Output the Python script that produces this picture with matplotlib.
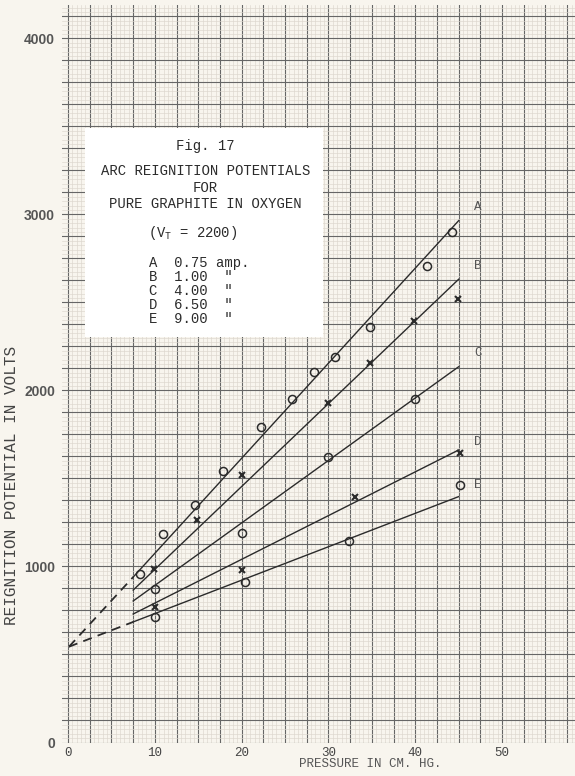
import numpy as np
import matplotlib
matplotlib.use("Agg")
import matplotlib.pyplot as plt
from matplotlib.patches import Rectangle

# ---- data ----
# pressure (cm Hg) and reignition potential (volts)
a_x = [8.3, 10.9, 14.6, 17.8, 22.2, 25.8, 28.3, 30.8, 34.8, 41.3, 44.2]
a_y = [957, 1183, 1351, 1544, 1793, 1950, 2103, 2192, 2362, 2707, 2902]
b_x = [9.9, 14.8, 20.0, 29.9, 34.8, 39.9, 44.9]
b_y = [984, 1264, 1520, 1931, 2158, 2397, 2522]
c_x = [10.0, 20.0, 30.0, 40.0]
c_y = [870, 1193, 1624, 1950]
d_x = [10.0, 20.0, 33.1, 45.2]
d_y = [772, 978, 1397, 1647]
e_x = [10.0, 20.4, 32.4, 45.1]
e_y = [715, 912, 1145, 1463]

# fitted lines drawn on the plate (start / end values)
fit_x = [7.5, 45.0]
fit_a = [940, 2965]
fit_b = [866, 2632]
fit_c = [804, 2135]
fit_d = [730, 1662]
fit_e = [685, 1397]
intercept = 544   # dashed extrapolation meets the axis here

curve_names = ["A", "B", "C", "D", "E"]
curve_label_y = [3044, 2707, 2215, 1709, 1463]
currents = ["0.75 amp.", '1.00  "', '4.00  "', '6.50  "', '9.00  "']

xticks = [0, 10, 20, 30, 40, 50]
yticks = [0, 1000, 2000, 3000, 4000]

# ---- plot ----
paper = "#f8f5ee"
ink = "#2b2b2b"
mono = "Liberation Mono"

fig = plt.figure(figsize=(5.75, 7.76), dpi=100, facecolor=paper)
ax = fig.add_axes([62 / 575, 1 - 742.5 / 776, 1 - 62 / 575, (742.5 - 5) / 776])
ax.set_facecolor(paper)
ax.set_xlim(-0.7, 58.4)
ax.set_ylim(0, 4190)

# graph paper
for xv in np.arange(0, 58.5, 0.5):
    major = abs(xv / 2.5 - round(xv / 2.5)) < 1e-6
    ax.axvline(xv, color="#666666" if major else "#dcd6cd",
               lw=0.8 if major else 0.45, zorder=0)
for yv in np.arange(0, 4200, 25):
    major = yv % 125 == 0
    ax.axhline(yv, color="#666666" if major else "#dcd6cd",
               lw=0.8 if major else 0.45, zorder=0)

# white label card
ax.add_patch(Rectangle((2.0, 2304), 27.4, 1187, facecolor="white",
                       edgecolor="none", zorder=1))

# fitted lines
for fy in [fit_a, fit_b, fit_c, fit_d, fit_e]:
    ax.plot(fit_x, fy, color=ink, lw=1.0, zorder=3)
# dashed extrapolations for A and E
for fy in [fit_a, fit_e]:
    ax.plot([0.1, fit_x[0]], [intercept, fy[0]], color=ink, lw=1.3,
            dashes=(5, 3.5), zorder=3)

# data points
circ = dict(marker="o", ls="none", ms=5.8, mfc="none", mec=ink, mew=1.1, zorder=4)
cross = dict(marker="x", ls="none", ms=4.5, mec=ink, mew=1.5, zorder=4)
ax.plot(a_x, a_y, **circ)
ax.plot(b_x, b_y, **cross)
ax.plot(c_x, c_y, **circ)
ax.plot(d_x, d_y, **cross)
ax.plot(e_x, e_y, **circ)

for name, ly in zip(curve_names, curve_label_y):
    ax.text(46.8, ly, name, family=mono, fontsize=9, color="#555555",
            ha="left", va="center", zorder=5)

# card text
card = dict(family=mono, fontsize=10, color=ink, ha="center", va="center", zorder=5)
ax.text(15.8, 3390, "Fig. 17", **card)
ax.text(15.8, 3248, "ARC REIGNITION POTENTIALS", **card)
ax.text(15.8, 3152, "FOR", **card)
ax.text(15.8, 3062, "PURE GRAPHITE IN OXYGEN", **card)
plt.rcParams["mathtext.fontset"] = "custom"
plt.rcParams["mathtext.rm"] = mono
ax.text(14.4, 2895, r"(V$_{\mathrm{T}}$ = 2200)", **card)
for i, (name, cur) in enumerate(zip(curve_names, currents)):
    ax.text(9.3, 2724 - i * 79.5, f"{name}  {cur}", family=mono, fontsize=10,
            color=ink, ha="left", va="center", zorder=5)

# axes
for s in ax.spines.values():
    s.set_visible(False)
ax.tick_params(length=0)
ax.set_xticks(xticks)
ax.set_xticklabels([str(t) for t in xticks], family=mono, fontsize=9, color="#444444")
ax.set_yticks(yticks)
ax.set_yticklabels([str(t) for t in yticks], family="Liberation Sans",
                   fontweight="bold", fontsize=10, color="#555555")
ax.tick_params(axis="x", pad=3)
ax.tick_params(axis="y", pad=5)

fig.text(370 / 575, 1 - 764 / 776, "PRESSURE IN CM. HG.", family=mono,
         fontsize=9, color="#555555", ha="center", va="center")
fig.text(12 / 575, 1 - 485 / 776, "REIGNITION POTENTIAL IN VOLTS", family=mono,
         fontsize=11.5, color="#444444", ha="center", va="center", rotation=90)

fig.savefig("out.png", dpi=100, facecolor=paper)
